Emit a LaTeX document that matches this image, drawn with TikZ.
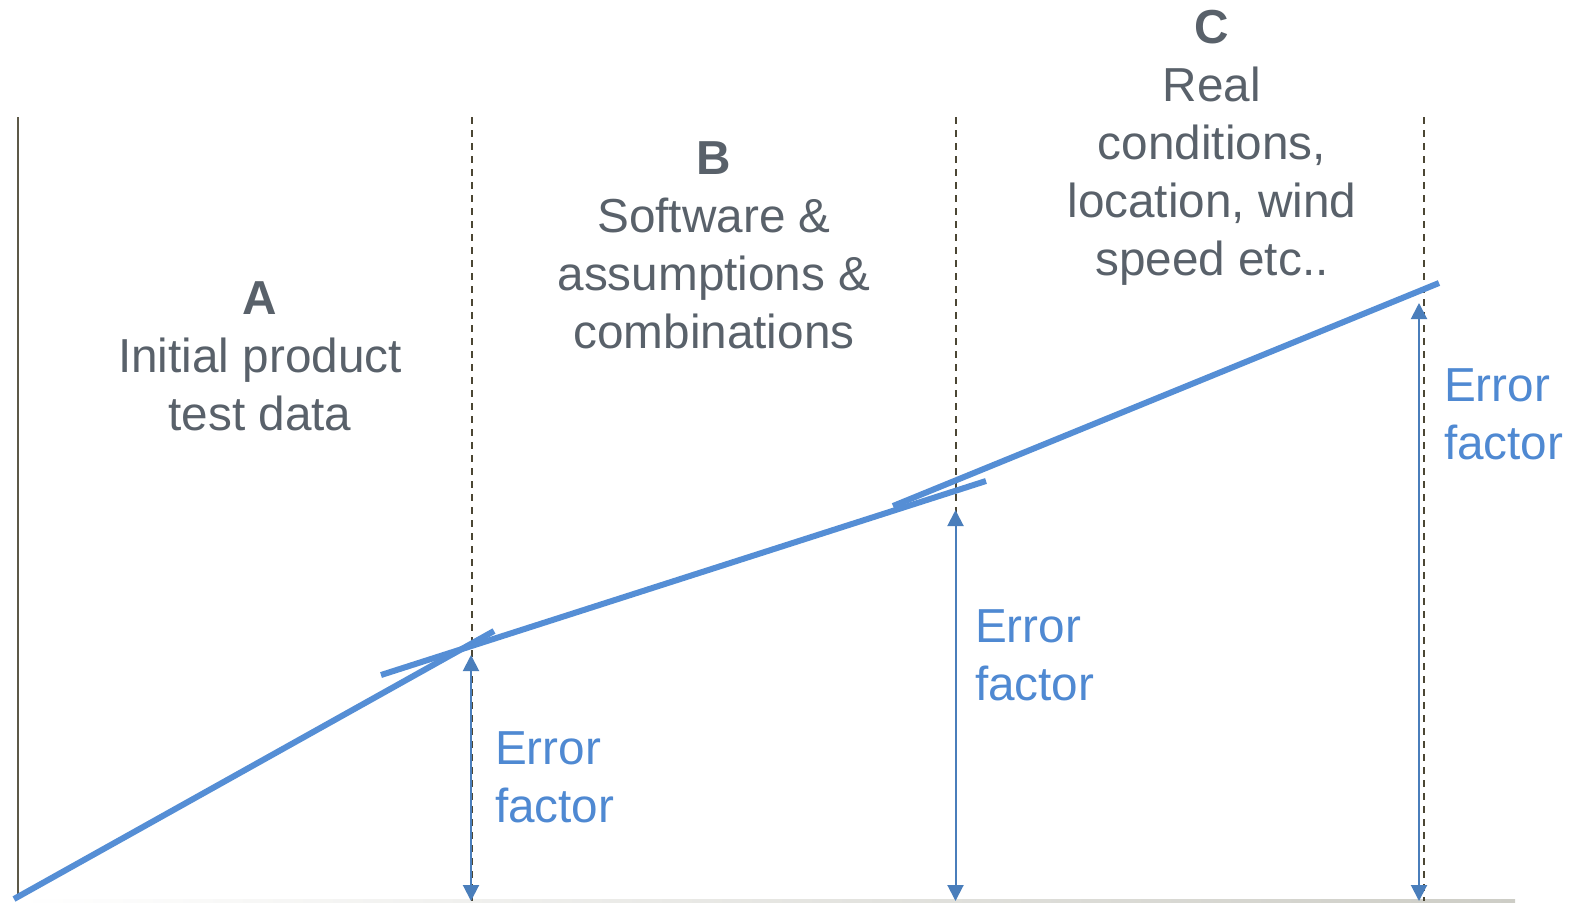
\documentclass[tikz,border=0pt]{standalone}
\usepackage{fontspec}
\setmainfont{Liberation Sans}
\usepackage{tikz}
\usetikzlibrary{arrows.meta}
\definecolor{slate}{RGB}{89, 97, 106}
\definecolor{errblue}{RGB}{79, 137, 210}
\definecolor{trendblue}{RGB}{85, 142, 213}
\definecolor{arrowblue}{RGB}{74, 126, 187}
\definecolor{olive}{RGB}{75, 70, 52}
\definecolor{baseline}{RGB}{205, 205, 198}

\tikzset{
  region/.style={anchor=base, align=center, text=slate, font=\fontsize{23.85}{29}\selectfont},
  errlabel/.style={anchor=base west, align=left, text=errblue, font=\fontsize{23.85}{29}\selectfont},
  trend/.style={trendblue, line width=3pt},
  divider/.style={olive, line width=1pt, dash pattern=on 3.5pt off 3pt},
  errarrow/.style={arrowblue, line width=1pt,
    {Triangle[width=8pt,length=8pt]}-{Triangle[width=8pt,length=8pt]}}
}

\begin{document}
\begin{tikzpicture}[x=0.5pt, y=-0.5pt]
            \useasboundingbox (0,0) rectangle (1581,902);
            % ground line and left axis
            \shade[left color=white, right color=baseline] (18,899) rectangle (1515,902);
            \draw[color=olive!90, line width=1pt] (18,117) -- (18,897);
            % region borders
            \coordinate (dA) at (471.5,117);  \coordinate (dAend) at (471.5,901);
            \coordinate (dB) at (956,117);    \coordinate (dBend) at (956,812);
            \coordinate (dC) at (1424,117);   \coordinate (dCend) at (1424,901);
            \draw[divider] (dA) -- (dAend);
            \draw[divider] (dB) -- (dBend);
            \draw[divider] (dC) -- (dCend);
            % error growth
            \coordinate (tA0) at (14,899);   \coordinate (tA1) at (494,631);
            \coordinate (tB0) at (381,675);  \coordinate (tB1) at (986,481);
            \coordinate (tC0) at (893,506);  \coordinate (tC1) at (1439,283);
            \draw[trend] (tA0) -- (tA1);
            \draw[trend] (tB0) -- (tB1);
            \draw[trend] (tC0) -- (tC1);
            % error factor arrows
            \coordinate (eA0) at (471,655);  \coordinate (eA1) at (471,901);
            \coordinate (eB0) at (955.5,510);  \coordinate (eB1) at (955.5,901);
            \coordinate (eC0) at (1419,303); \coordinate (eC1) at (1419,901);
            \draw[errarrow] (eA0) -- (eA1);
            \draw[errarrow] (eB0) -- (eB1);
            \draw[errarrow] (eC0) -- (eC1);
            % labels (base = last line)
            \node[region] (regA) at (260,430.5) {\textbf{A}\\Initial product\\test data};
            \node[region] (regB) at (714,348) {\textbf{B}\\Software \&\\assumptions \&\\combinations};
            \node[region] (regC) at (1212,275) {\textbf{C}\\Real\\conditions,\\location, wind\\speed etc..};
            \node[errlabel] (errA) at (488,822) {Error\\factor};
            \node[errlabel] (errB) at (968,700) {Error\\factor};
            \node[errlabel] (errC) at (1437,459) {Error\\factor};
        \end{tikzpicture}
\end{document}
